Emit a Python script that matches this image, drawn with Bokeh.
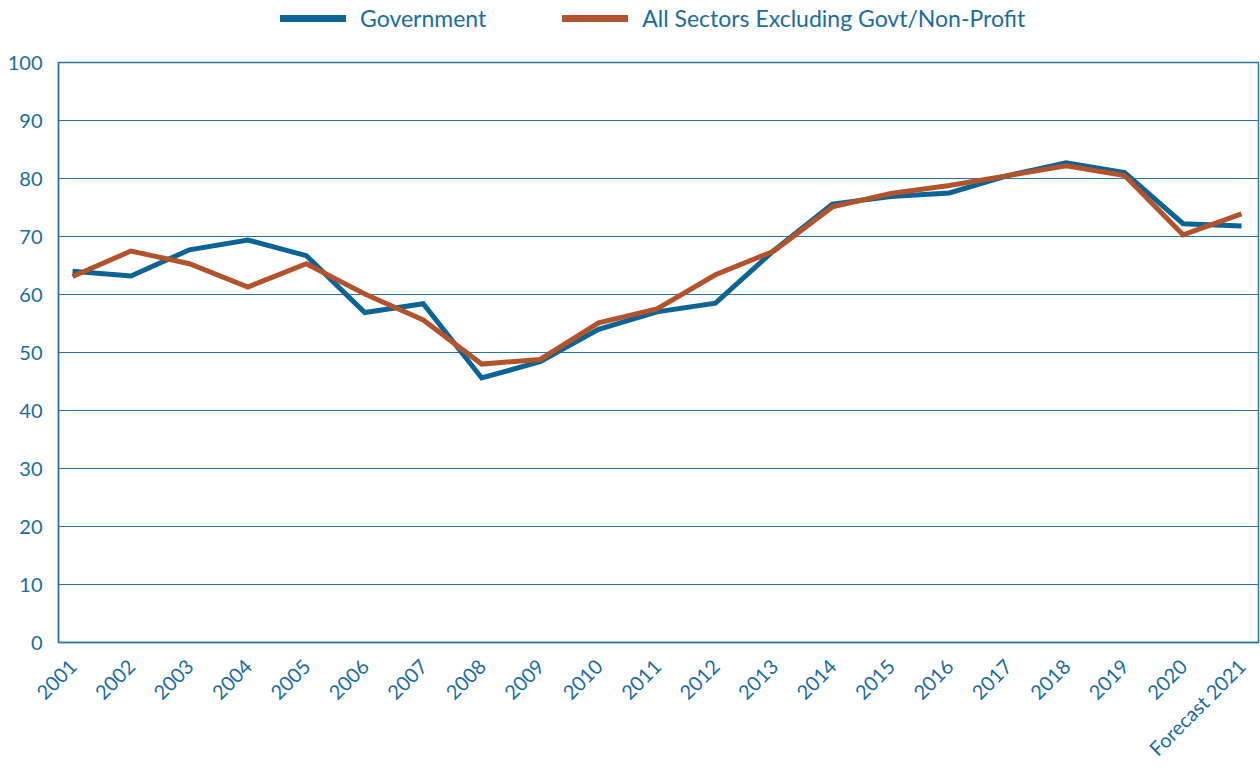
import math
from bokeh.plotting import figure
from bokeh.layouts import column
from bokeh.models import FixedTicker, Range1d, Legend, LegendItem
from bokeh.embed import file_html
from bokeh.resources import INLINE

categories = ["2001", "2002", "2003", "2004", "2005", "2006", "2007", "2008", "2009", "2010",
              "2011", "2012", "2013", "2014", "2015", "2016", "2017", "2018", "2019", "2020",
              "Forecast 2021"]
government = [64.0, 63.2, 67.7, 69.4, 66.7, 56.9, 58.4, 45.6, 48.4, 54.0,
              57.0, 58.5, 67.6, 75.6, 76.9, 77.5, 80.5, 82.7, 81.0, 72.2, 71.8]
all_sectors = [63.1, 67.5, 65.3, 61.3, 65.3, 60.1, 55.6, 48.0, 48.8, 55.1,
               57.5, 63.4, 67.5, 75.1, 77.4, 78.8, 80.5, 82.2, 80.5, 70.3, 73.9]
series_names = ["Government", "All Sectors Excluding Govt/Non-Profit"]
y_ticks = [0, 10, 20, 30, 40, 50, 60, 70, 80, 90, 100]

BLUE = "#0b6494"
ORANGE = "#b3532d"
TEXT = "#1b6c9e"
GRID = "#2f73a1"
FONT = "Lato"

xs = list(range(len(categories)))

p = figure(frame_width=1200, frame_height=580, output_backend="svg", toolbar_location=None,
           x_range=Range1d(-0.24, len(categories) - 1 + 0.29), y_range=Range1d(0, 100),
           min_border_left=58, min_border_right=2, min_border_top=12, min_border_bottom=0)

p.line(xs, government, line_color=BLUE, line_width=5, line_join="miter")
p.line(xs, all_sectors, line_color=ORANGE, line_width=5, line_join="miter")

p.xaxis.ticker = FixedTicker(ticks=xs)
p.xaxis.major_label_overrides = {i: c for i, c in enumerate(categories)}
p.xaxis.major_label_orientation = math.pi / 4
p.yaxis.ticker = FixedTicker(ticks=y_ticks)

for ax in (p.xaxis, p.yaxis):
    ax.major_tick_line_color = None
    ax.minor_tick_line_color = None
    ax.axis_line_color = GRID
    ax.axis_line_width = 1.5
    ax.major_label_text_font = FONT
    ax.major_label_text_font_size = "20px"
    ax.major_label_text_color = TEXT
    ax.major_label_standoff = 10

p.xaxis.major_label_text_font_size = "20px"
p.xaxis.major_label_standoff = 14

p.xgrid.grid_line_color = None
p.ygrid.ticker = FixedTicker(ticks=y_ticks)
p.ygrid.grid_line_color = GRID
p.ygrid.grid_line_width = 1
p.outline_line_color = GRID
p.outline_line_width = 1.5

# legend strip above the chart (its lines lie outside the visible range)
lg = figure(width=1260, height=50, output_backend="svg", toolbar_location=None,
            x_range=Range1d(0, 1), y_range=Range1d(1000, 1001),
            min_border_left=0, min_border_right=0, min_border_top=0, min_border_bottom=0)
lg.axis.visible = False
lg.grid.visible = False
lg.outline_line_color = None
g1 = lg.line(xs, government, line_color=BLUE, line_width=7, line_cap="round")
g2 = lg.line(xs, all_sectors, line_color=ORANGE, line_width=7, line_cap="round")
legend = Legend(items=[LegendItem(label=series_names[0], renderers=[g1]),
                       LegendItem(label=series_names[1], renderers=[g2])],
                orientation="horizontal", location=(222, 18),
                label_text_font=FONT, label_text_font_size="23px", label_text_color=TEXT,
                glyph_width=66, glyph_height=20, spacing=76, label_standoff=14,
                border_line_color=None, background_fill_alpha=0, margin=0, padding=0)
lg.add_layout(legend, "center")

layout = column(lg, p, spacing=0)
open("out.html", "w").write(file_html(layout, INLINE))
